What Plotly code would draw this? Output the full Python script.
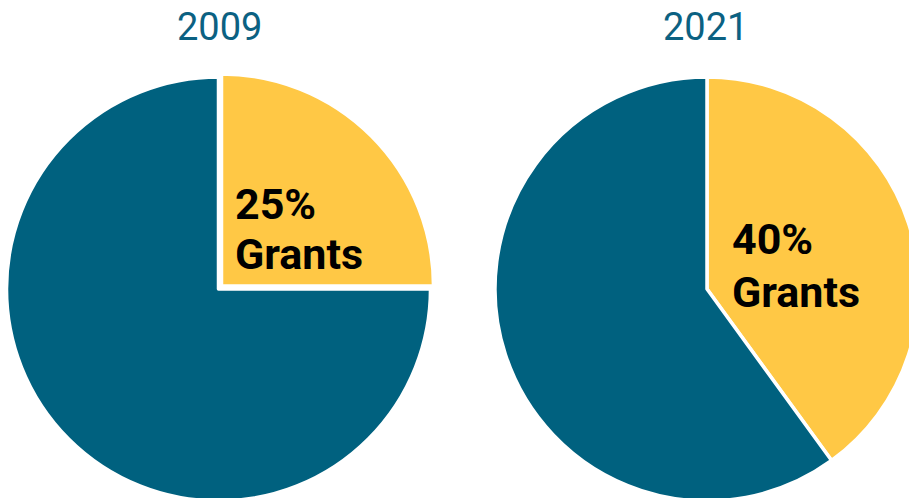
import plotly.graph_objects as go

# Data
years = ["2009", "2021"]
categories = ["Grants", "Other"]
grant_share = [25, 40]
other_share = [75, 60]

TEAL = "#00617f"
YELLOW = "#ffc845"
W, H = 920, 510

fig = go.Figure()

def px_dom(cx, cy, r, pull):
    half = r * (1 + pull)
    return dict(x=[(cx - half) / W, (cx + half) / W],
                y=[1 - (cy + half) / H, 1 - (cy - half) / H])

pies = [
    dict(cx=218.5, cy=289, r=212, pull=0.02),
    dict(cx=707, cy=289, r=212, pull=0.0),
]

for i, p in enumerate(pies):
    fig.add_trace(go.Pie(
        labels=categories,
        values=[grant_share[i], other_share[i]],
        sort=False,
        direction="clockwise",
        rotation=0,
        pull=[p["pull"], 0],
        marker=dict(colors=[YELLOW, TEAL], line=dict(color="white", width=3.5)),
        textinfo="none",
        hoverinfo="skip",
        showlegend=False,
        domain=px_dom(p["cx"], p["cy"], p["r"], p["pull"]),
    ))

title_pos = [(219.5, 27), (705, 27)]
label_pos = [(233, 204, 254), (730, 239, 292)]
annotations = []
for i, yr in enumerate(years):
    tx, ty = title_pos[i]
    annotations.append(dict(text=yr, x=tx / W, y=1 - ty / H, xref="paper", yref="paper",
                            xanchor="center", yanchor="middle", showarrow=False,
                            font=dict(family="Roboto", size=38, color="#0b6182")))
    lx, y1, y2 = label_pos[i]
    for txt, yy in [(f"{grant_share[i]}%", y1), (categories[0], y2)]:
        annotations.append(dict(text=txt, x=lx / W, y=1 - yy / H, xref="paper", yref="paper",
                                xanchor="left", yanchor="middle", showarrow=False,
                                font=dict(family="Roboto", size=43, color="black", weight="bold")))

fig.update_layout(
    width=W, height=H,
    margin=dict(l=0, r=0, t=0, b=0),
    paper_bgcolor="white", plot_bgcolor="white",
    annotations=annotations,
)

fig.write_html("out.html",
               post_script="document.body.style.margin='0';document.body.style.overflow='hidden';document.documentElement.style.overflow='hidden';")
